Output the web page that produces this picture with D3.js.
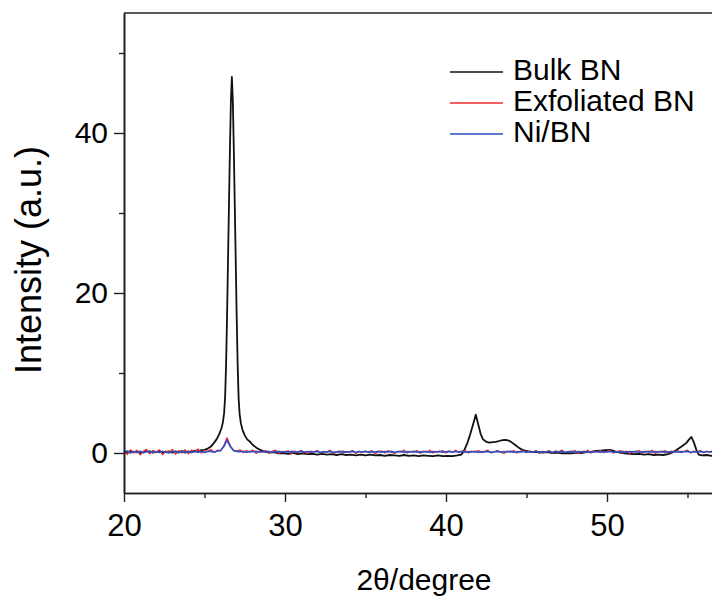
<!DOCTYPE html>
<html><head><meta charset="utf-8">
<script src="https://cdn.jsdelivr.net/npm/d3@7"></script>
<style>body{margin:0;background:#fff} svg{display:block}</style>
</head><body>
<svg id="c" width="712" height="599"></svg>
<script>
const seriesNames = ["Bulk BN", "Exfoliated BN", "Ni/BN"];
const seriesColors = ["#111111", "#ee2b2b", "#2b4fc4"];

const bulkX = [20.0,20.2,20.4,20.6,20.8,21.0,21.2,21.4,21.6,21.8,22.0,22.2,22.4,22.6,22.8,23.0,23.2,23.4,23.6,23.8,24.0,24.2,24.4,24.6,24.8,25.0,25.2,25.4,25.6,25.75,25.9,26.04,26.14,26.22,26.28,26.34,26.4,26.46,26.52,26.58,26.64,26.7,26.76,26.82,26.88,26.94,27.0,27.06,27.12,27.18,27.26,27.36,27.5,27.65,27.83,28.0,28.2,28.4,28.6,28.8,29.0,29.3,29.6,29.9,30.2,30.5,30.8,31.1,31.4,31.7,32.0,32.3,32.6,32.9,33.2,33.5,33.8,34.1,34.4,34.7,35.0,35.3,35.6,35.9,36.2,36.5,36.8,37.1,37.4,37.7,38.0,38.3,38.6,38.9,39.2,39.5,39.8,40.1,40.4,40.7,40.95,41.1,41.3,41.5,41.7,41.85,42.0,42.15,42.3,42.5,42.7,42.9,43.1,43.3,43.5,43.7,43.9,44.1,44.3,44.5,44.7,44.9,45.1,45.4,45.7,46.0,46.3,46.6,46.9,47.2,47.5,47.8,48.1,48.4,48.7,49.0,49.3,49.6,49.9,50.2,50.5,50.8,51.1,51.4,51.7,52.0,52.3,52.6,52.9,53.2,53.5,53.8,54.1,54.4,54.7,54.95,55.1,55.25,55.4,55.55,55.7,55.9,56.2,56.5,56.8,57.1];
const bulkY = [0.2,0.05,0.25,0.1,0.2,0.0,0.15,0.25,0.05,0.2,0.1,0.25,0.0,0.15,0.2,0.05,0.2,0.1,0.25,0.05,0.2,0.15,0.3,0.2,0.35,0.4,0.55,0.8,1.3,1.7,2.3,3.0,3.8,5.0,7.0,11,17,24,31,38,44,47,44,38,31,24,17,11,6.8,4.9,3.7,2.9,2.2,1.7,1.4,1.0,0.7,0.45,0.28,0.15,0.05,0.1,-0.05,0.0,-0.1,0.0,-0.15,-0.05,-0.15,-0.1,-0.2,-0.1,-0.2,-0.15,-0.25,-0.15,-0.25,-0.2,-0.3,-0.2,-0.3,-0.2,-0.3,-0.25,-0.35,-0.25,-0.3,-0.35,-0.25,-0.35,-0.3,-0.4,-0.3,-0.35,-0.4,-0.3,-0.4,-0.35,-0.4,-0.3,-0.2,0.2,1.1,2.3,3.7,4.8,3.6,2.4,1.7,1.4,1.3,1.35,1.4,1.5,1.6,1.65,1.55,1.3,1.0,0.7,0.45,0.3,0.2,0.1,0.15,0.05,0.1,0.0,0.05,-0.05,0.0,-0.05,0.05,0.0,0.1,0.15,0.25,0.3,0.35,0.4,0.2,0.05,-0.05,-0.1,-0.15,-0.1,-0.2,-0.15,-0.25,-0.2,-0.25,-0.15,0.1,0.5,0.9,1.3,1.7,2.0,1.3,0.4,-0.2,-0.3,-0.25,-0.35,-0.3,-0.35];

// Exfoliated BN and Ni/BN are sampled every 0.2 degree from 20.0
const sampleStart = 20.0, sampleStep = 0.2;
const exfY = [0.3,-0.2,0.4,0.0,0.35,-0.25,0.2,0.45,-0.1,0.3,
 0.05,0.4,-0.2,0.25,0.1,0.45,-0.15,0.3,0.0,0.4,
 -0.1,0.35,0.15,0.5,0.0,0.3,0.2,0.45,0.1,0.35,
 0.3,0.9,1.9,0.9,0.35,0.2,0.4,0.05,0.3,0.15,
 0.35,-0.05,0.25,0.1,0.3,0.0,0.2,0.35,-0.05,0.2,
 0.1,0.3,-0.1,0.25,0.05,0.3,0.1,-0.05,0.25,0.1,
 0.3,0.0,0.2,0.1,0.35,-0.05,0.15,0.25,0.0,0.2,
 0.1,0.3,-0.05,0.2,0.05,0.25,0.1,0.3,-0.1,0.15,
 0.25,0.0,0.3,0.1,-0.05,0.2,0.15,0.35,0.0,0.2,
 0.1,0.3,-0.05,0.25,0.1,0.35,0.0,0.2,0.15,0.3,
 0.0,0.25,0.1,0.35,0.05,0.2,0.3,0.0,0.25,0.1,
 0.3,0.05,0.2,0.35,0.0,0.15,0.3,0.1,-0.05,0.25,
 0.1,0.3,0.0,0.2,0.35,0.05,0.25,0.1,0.3,-0.05,
 0.2,0.1,0.3,0.0,0.25,0.15,0.35,0.05,0.2,0.1,
 0.3,-0.05,0.2,0.1,0.35,0.0,0.25,0.1,0.3,0.05,
 0.2,0.35,0.0,0.15,0.3,0.05,0.25,-0.05,0.2,0.1,
 0.3,0.0,0.25,0.1,0.35,-0.05,0.2,0.1,0.3,0.0,
 0.25,0.1,0.3,0.05,0.2,0.35,0.0,0.25,0.1,0.3,
 0.05,0.2,0.1,0.3,0.0,0.2];
const niY = [0.1,0.25,0.0,0.2,0.05,0.22,0.02,0.15,0.25,0.0,
 0.18,0.05,0.22,0.1,0.0,0.2,0.15,0.02,0.22,0.1,
 0.15,0.05,0.2,0.1,0.22,0.05,0.18,0.2,0.1,0.25,
 0.3,0.8,1.6,0.8,0.3,0.2,0.15,0.22,0.1,0.18,
 0.15,0.2,0.1,0.18,0.15,0.2,0.08,0.16,0.2,0.1,
 0.18,0.13,0.2,0.1,0.16,0.2,0.12,0.18,0.1,0.16,
 0.2,0.1,0.16,0.12,0.2,0.08,0.16,0.12,0.2,0.1,
 0.15,0.2,0.1,0.18,0.12,0.2,0.08,0.16,0.12,0.2,
 0.1,0.18,0.12,0.2,0.1,0.15,0.2,0.08,0.18,0.12,
 0.2,0.1,0.16,0.12,0.2,0.08,0.18,0.12,0.2,0.1,
 0.15,0.2,0.1,0.18,0.12,0.2,0.1,0.16,0.12,0.2,
 0.1,0.18,0.12,0.2,0.08,0.16,0.2,0.1,0.18,0.12,
 0.2,0.1,0.16,0.12,0.2,0.1,0.18,0.12,0.2,0.08,
 0.16,0.12,0.2,0.1,0.18,0.12,0.2,0.1,0.15,0.2,
 0.1,0.18,0.12,0.2,0.08,0.16,0.12,0.2,0.1,0.18,
 0.12,0.2,0.1,0.16,0.12,0.2,0.08,0.18,0.12,0.2,
 0.1,0.16,0.12,0.2,0.1,0.18,0.12,0.2,0.08,0.16,
 0.12,0.2,0.1,0.18,0.15,0.2,0.1,0.16,0.12,0.2,
 0.1,0.18,0.12,0.2,0.1,0.16];

const xMajorTicks = [20, 30, 40, 50];
const xMinorTicks = [25, 35, 45, 55];
const yMajorTicks = [0, 20, 40];
const yMinorTicks = [10, 30, 50];
const xLabel = "2θ/degree";
const yLabel = "Intensity (a.u.)";

const FONT = "'Liberation Sans', Arial, Helvetica, sans-serif";
const plotLeft = 124, plotTop = 13, plotBottom = 493;
const svg = d3.select("#c");

const x = d3.scaleLinear().domain([20, 60]).range([plotLeft, plotLeft + 16.1 * 40]);
const y = d3.scaleLinear().domain([-5, 55]).range([plotBottom, plotTop]);

svg.append("defs").append("clipPath").attr("id", "clip")
  .append("rect").attr("x", plotLeft).attr("y", plotTop).attr("width", 700).attr("height", plotBottom - plotTop);

const toPts = (xs, ys) => ys.map((v, i) => [xs[i], v]);
const toGrid = ys => ys.map((v, i) => [sampleStart + i * sampleStep, v]);
const series = [toPts(bulkX, bulkY), toGrid(exfY), toGrid(niY)];
const widths = [1.8, 1.3, 1.6];

const line = d3.line().x(d => x(d[0])).y(d => y(d[1]));
const g = svg.append("g").attr("clip-path", "url(#clip)");
series.forEach((s, i) => {
  g.append("path").datum(s).attr("d", line)
    .attr("fill", "none").attr("stroke", seriesColors[i])
    .attr("stroke-width", widths[i]).attr("stroke-linejoin", "round");
});

const axisColor = "#222";
function styleAxis(sel, size) {
  sel.selectAll("path.domain").attr("stroke", axisColor).attr("stroke-width", 1.6);
  sel.selectAll(".tick line").attr("stroke", axisColor).attr("stroke-width", 1.4);
  sel.selectAll(".tick text").attr("font-family", FONT).attr("font-size", size).attr("fill", "#000");
}
const xAxis = svg.append("g").attr("transform", `translate(0,${plotBottom})`)
  .call(d3.axisBottom(x).tickValues(xMajorTicks).tickSize(9).tickSizeOuter(0).tickPadding(12).tickFormat(d3.format("d")));
styleAxis(xAxis, "31px");
const xMinor = svg.append("g").attr("transform", `translate(0,${plotBottom})`)
  .call(d3.axisBottom(x).tickValues(xMinorTicks).tickSize(5).tickSizeOuter(0).tickFormat(""));
styleAxis(xMinor, "0px");

const yAxis = svg.append("g").attr("transform", `translate(${plotLeft},0)`)
  .call(d3.axisLeft(y).tickValues(yMajorTicks).tickSize(10).tickSizeOuter(0).tickPadding(6).tickFormat(d3.format("d")));
styleAxis(yAxis, "30px");
const yMinor = svg.append("g").attr("transform", `translate(${plotLeft},0)`)
  .call(d3.axisLeft(y).tickValues(yMinorTicks).tickSize(5).tickSizeOuter(0).tickFormat(""));
styleAxis(yMinor, "0px");

svg.append("line").attr("x1", plotLeft).attr("x2", 712).attr("y1", plotTop).attr("y2", plotTop)
  .attr("stroke", axisColor).attr("stroke-width", 1.6);

svg.append("text").attr("x", 424).attr("y", 590).attr("text-anchor", "middle")
  .attr("font-family", FONT).attr("font-size", "30px").text(xLabel);
svg.append("text").attr("transform", "translate(41,260) rotate(-90)").attr("text-anchor", "middle")
  .attr("font-family", FONT).attr("font-size", "36px").text(yLabel);

const legY = [72, 103, 134];
seriesNames.forEach((n, i) => {
  svg.append("line").attr("x1", 450).attr("x2", 503).attr("y1", legY[i]).attr("y2", legY[i])
    .attr("stroke", seriesColors[i]).attr("stroke-width", 1.6);
  svg.append("text").attr("x", 513).attr("y", legY[i] + 8)
    .attr("font-family", FONT).attr("font-size", "30px").attr("fill", "#000").text(n);
});
</script>
</body></html>
